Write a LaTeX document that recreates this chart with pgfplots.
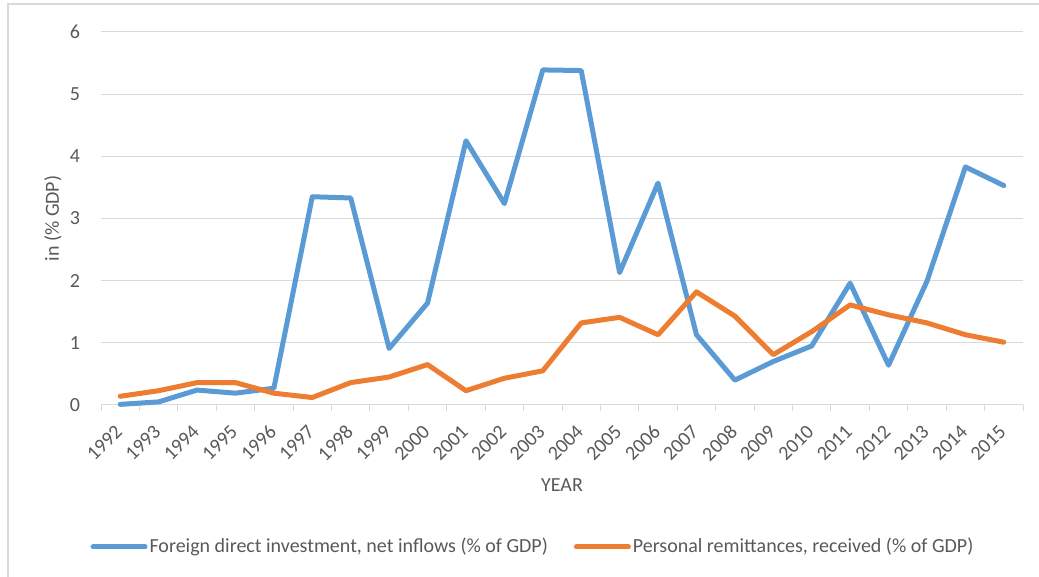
\documentclass[border=0pt]{standalone}
\usepackage{fontspec}
\setmainfont{Carlito}
\usepackage{pgfplots}
\pgfplotsset{compat=1.18}
\definecolor{fdiblue}{HTML}{5B9BD5}
\definecolor{remorange}{HTML}{ED7D31}
\definecolor{gridgray}{HTML}{D9D9D9}
\definecolor{txtgray}{HTML}{595959}
\begin{document}
\fontsize{20}{24}\selectfont
\begin{tikzpicture}
\useasboundingbox (0pt,0pt) rectangle (1039pt,577pt);
\draw[gridgray, line width=1.5pt] (8pt,0pt) -- (8pt,573pt) -- (1039pt,573pt);
\begin{axis}[
  at={(101pt,172pt)}, anchor=south west,
  scale only axis, width=922pt, height=373pt,
  xmin=-0.5, xmax=23.5, ymin=0, ymax=6,
  clip=false,
  axis x line*=bottom, axis y line*=left,
  x axis line style={draw=gridgray, line width=1pt},
  y axis line style={draw=none},
  xtick={0,...,23},
  xticklabels={1992,1993,1994,1995,1996,1997,1998,1999,2000,2001,2002,2003,2004,2005,2006,2007,2008,2009,2010,2011,2012,2013,2014,2015},
  minor xtick={-0.5,0.5,...,23.5},
  ytick={0,1,...,6},
  major tick length=0pt, minor tick length=6pt, tick align=outside,
  minor tick style={draw=gridgray, line width=1pt},
  ymajorgrids, major grid style={draw=gridgray, line width=1pt},
  tick label style={text=txtgray},
  /pgf/number format/assume math mode=true,
  xticklabel style={xshift=-6pt, yshift=-17pt, rotate=45, anchor=north east, inner sep=1pt},
  yticklabel style={xshift=-14pt},
  xlabel={YEAR},
  every axis x label/.style={at={(axis description cs:0.5,-0.2145)}, anchor=center, text=txtgray},
  legend columns=2,
  legend style={at={(axis description cs:0.4685,-0.3807)}, anchor=center, draw=none, fill=none, text=txtgray,
    /tikz/every even column/.append style={column sep=24pt},
    nodes={inner sep=2pt}},
  legend image code/.code={\draw[#1, line width=5pt, line cap=round] (0pt,0pt) -- (52pt,0pt);},
]
\addplot[color=fdiblue, line width=5pt, line join=round, line cap=round] coordinates {
(0,0.01) (1,0.05) (2,0.24) (3,0.19) (4,0.27) (5,3.35) (6,3.33) (7,0.91) (8,1.64) (9,4.25) (10,3.24) (11,5.39)
(12,5.38) (13,2.13) (14,3.57) (15,1.13) (16,0.40) (17,0.70) (18,0.95) (19,1.96) (20,0.64) (21,1.99) (22,3.83) (23,3.53)};
\addlegendentry{Foreign direct investment, net inflows (\% of GDP)}
\addplot[color=remorange, line width=5pt, line join=round, line cap=round] coordinates {
(0,0.14) (1,0.23) (2,0.36) (3,0.36) (4,0.19) (5,0.12) (6,0.36) (7,0.45) (8,0.65) (9,0.23) (10,0.43) (11,0.55)
(12,1.32) (13,1.41) (14,1.13) (15,1.82) (16,1.43) (17,0.81) (18,1.18) (19,1.61) (20,1.45) (21,1.32) (22,1.13) (23,1.01)};
\addlegendentry{Personal remittances, received (\% of GDP)}
\node[rotate=90, anchor=center, text=txtgray, inner sep=0pt] at (rel axis cs:-0.0521,0.5) {in (\% GDP)};
\end{axis}
\end{tikzpicture}
\end{document}
